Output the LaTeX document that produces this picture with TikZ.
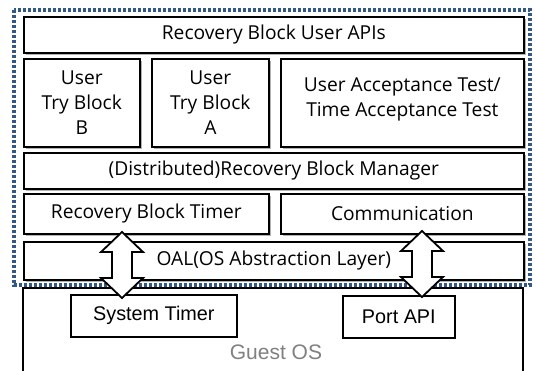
\documentclass[tikz,border=0pt]{standalone}
\usepackage{fontspec}
\setmainfont{Open Sans}
\newfontfamily\arialfont{Liberation Sans}
\usetikzlibrary{shadows,calc}
\definecolor{frameblue}{RGB}{50,88,135}
\definecolor{osgray}{RGB}{128,128,128}
\tikzset{
  blk/.style={draw=black, line width=1.7pt, fill=white, anchor=north west,
    inner sep=0pt, align=center, font=\fontsize{19.2}{25}\selectfont,
    drop shadow={shadow xshift=2.5pt, shadow yshift=-2.5pt, opacity=0.3, fill=black}},
  osblk/.style={draw=black, line width=1.7pt, fill=white, anchor=north west,
    inner sep=0pt, font=\arialfont\fontsize{19.8}{22}\selectfont},
  blockarrow/.style={draw=black, line width=1.8pt, fill=white, line join=miter},
  layerframe/.style={draw=frameblue, line width=3.3pt, dash pattern=on 3pt off 2pt},
}
% two-headed hollow block arrow between a top tip and a bottom tip
\newcommand\twoway[2]{%
  \path[blockarrow] let \p1=(#1), \p2=(#2) in
    (\p1) -- (\x1+21pt,\y1-20pt) -- (\x1+10pt,\y1-20pt) -- (\x1+10pt,\y2+20pt)
    -- (\x1+21pt,\y2+20pt) -- (\p2) -- (\x1-21pt,\y2+20pt) -- (\x1-10pt,\y2+20pt)
    -- (\x1-10pt,\y1-20pt) -- (\x1-21pt,\y1-20pt) -- cycle;}
\begin{document}
\begin{tikzpicture}[x=1pt,y=-1pt]
  \useasboundingbox (0,0) rectangle (535,370);
  \clip (0,0) rectangle (535,370);
  \fill[white] (0,0) rectangle (535,370);

  % guest operating system
  \draw[line width=1.7pt] (23,380) -- (23,288) -- (523,288) -- (523,380);
  \node[osblk, minimum width=166pt, minimum height=42pt] (systimer) at (70,294) {System Timer};
  \node[osblk, minimum width=112pt, minimum height=42pt] (portapi) at (342,295) {Port API};
  \node[font=\arialfont\fontsize{21}{24}\selectfont, text=osgray] (guest) at (276,352) {Guest OS};

  % recovery block layers
  \node[blk, minimum width=500pt, minimum height=36pt] (api) at (23,16) {Recovery Block User APIs};
  \node[blk, minimum width=116pt, minimum height=88pt] (tryB) at (23,58) {User\\Try Block\\B};
  \node[blk, minimum width=117pt, minimum height=88pt] (tryA) at (151,58) {User\\Try Block\\A};
  \node[blk, minimum width=243pt, minimum height=88pt, text depth=12pt] (accept) at (280,58) {User Acceptance Test/\\Time Acceptance Test};
  \node[blk, minimum width=500pt, minimum height=36pt] (mgr) at (23,152) {(Distributed)Recovery Block Manager};
  \node[blk, minimum width=245pt, minimum height=40pt] (rbt) at (23,193) {Recovery Block Timer};
  \node[blk, minimum width=243pt, minimum height=40pt] (comm) at (280,193) {Communication};
  \node[blk, minimum width=500pt, minimum height=38pt] (oal) at (23,241) {OAL(OS Abstraction Layer)};

  % boundary of the recovery block framework
  \draw[layerframe] (14,10) rectangle (530,285);

  % links to the OS services
  \coordinate (timerTop) at (122,232);
  \coordinate (timerBot) at (122,298);
  \coordinate (commTop) at (422,231);
  \coordinate (commBot) at (422,297);
  \twoway{timerTop}{timerBot}
  \twoway{commTop}{commBot}
\end{tikzpicture}
\end{document}
